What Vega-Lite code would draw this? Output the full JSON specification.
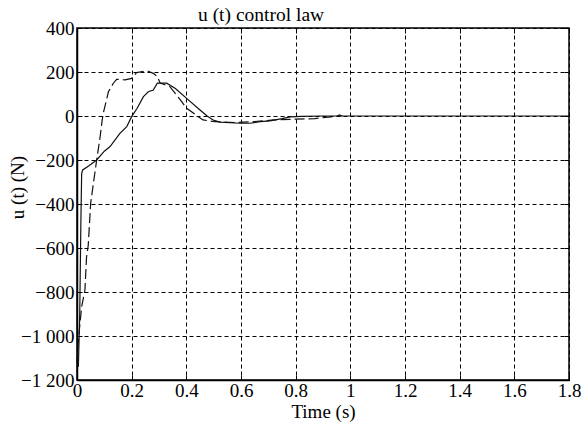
{
  "$schema": "https://vega.github.io/schema/vega-lite/v6.json",
  "width": 492,
  "height": 352,
  "autosize": {"type": "none"},
  "padding": {"left": 77, "top": 28, "right": 12, "bottom": 43},
  "background": "white",
  "config": {
    "font": "Liberation Serif",
    "view": {"stroke": "black", "strokeWidth": 1.5},
    "axis": {
      "labelFont": "Liberation Serif",
      "labelFontSize": 19,
      "labelColor": "black",
      "titleFont": "Liberation Serif",
      "titleFontSize": 19,
      "titleFontWeight": "normal",
      "titleColor": "black",
      "domainColor": "black",
      "domainWidth": 1.5,
      "tickColor": "black",
      "tickWidth": 1,
      "gridColor": "black",
      "gridOpacity": 1,
      "gridWidth": 1,
      "gridDash": [4, 3]
    }
  },
  "title": {
    "text": "u (t) control law",
    "anchor": "start",
    "frame": "group",
    "dx": 121,
    "dy": 29,
    "fontSize": 19.5,
    "fontWeight": "normal",
    "font": "Liberation Serif",
    "color": "black",
    "baseline": "bottom",
    "offset": 4
  },
  "data": {
    "values": [
      {"s": "a", "t": 0.005, "v": -1140},
      {"s": "a", "t": 0.010, "v": -900},
      {"s": "a", "t": 0.014, "v": -500},
      {"s": "a", "t": 0.017, "v": -262},
      {"s": "a", "t": 0.021, "v": -245},
      {"s": "a", "t": 0.045, "v": -225},
      {"s": "a", "t": 0.072, "v": -200},
      {"s": "a", "t": 0.100, "v": -160},
      {"s": "a", "t": 0.121, "v": -139},
      {"s": "a", "t": 0.157, "v": -79},
      {"s": "a", "t": 0.182, "v": -48},
      {"s": "a", "t": 0.200, "v": -3},
      {"s": "a", "t": 0.220, "v": 35},
      {"s": "a", "t": 0.243, "v": 88},
      {"s": "a", "t": 0.261, "v": 110},
      {"s": "a", "t": 0.279, "v": 118},
      {"s": "a", "t": 0.294, "v": 149},
      {"s": "a", "t": 0.328, "v": 149},
      {"s": "a", "t": 0.360, "v": 125},
      {"s": "a", "t": 0.401, "v": 80},
      {"s": "a", "t": 0.450, "v": 27},
      {"s": "a", "t": 0.476, "v": 0},
      {"s": "a", "t": 0.498, "v": -18},
      {"s": "a", "t": 0.523, "v": -28},
      {"s": "a", "t": 0.596, "v": -33},
      {"s": "a", "t": 0.633, "v": -33},
      {"s": "a", "t": 0.670, "v": -26},
      {"s": "a", "t": 0.706, "v": -22},
      {"s": "a", "t": 0.750, "v": -12},
      {"s": "a", "t": 0.780, "v": -4},
      {"s": "a", "t": 0.820, "v": -2},
      {"s": "a", "t": 0.900, "v": 0},
      {"s": "a", "t": 1.000, "v": 0},
      {"s": "a", "t": 1.800, "v": 0},
      {"s": "b", "t": 0.000, "v": -1120},
      {"s": "b", "t": 0.005, "v": -1018},
      {"s": "b", "t": 0.017, "v": -867},
      {"s": "b", "t": 0.029, "v": -791},
      {"s": "b", "t": 0.035, "v": -639},
      {"s": "b", "t": 0.041, "v": -590},
      {"s": "b", "t": 0.050, "v": -397},
      {"s": "b", "t": 0.060, "v": -306},
      {"s": "b", "t": 0.072, "v": -200},
      {"s": "b", "t": 0.084, "v": -100},
      {"s": "b", "t": 0.092, "v": -20},
      {"s": "b", "t": 0.096, "v": 12},
      {"s": "b", "t": 0.115, "v": 110},
      {"s": "b", "t": 0.133, "v": 149},
      {"s": "b", "t": 0.145, "v": 167},
      {"s": "b", "t": 0.176, "v": 164},
      {"s": "b", "t": 0.200, "v": 171},
      {"s": "b", "t": 0.218, "v": 197},
      {"s": "b", "t": 0.255, "v": 206},
      {"s": "b", "t": 0.279, "v": 194},
      {"s": "b", "t": 0.294, "v": 179},
      {"s": "b", "t": 0.304, "v": 150},
      {"s": "b", "t": 0.340, "v": 133},
      {"s": "b", "t": 0.383, "v": 65},
      {"s": "b", "t": 0.401, "v": 35},
      {"s": "b", "t": 0.461, "v": -18},
      {"s": "b", "t": 0.505, "v": -26},
      {"s": "b", "t": 0.584, "v": -30},
      {"s": "b", "t": 0.650, "v": -25},
      {"s": "b", "t": 0.720, "v": -18},
      {"s": "b", "t": 0.800, "v": -14},
      {"s": "b", "t": 0.870, "v": -12},
      {"s": "b", "t": 0.920, "v": -5},
      {"s": "b", "t": 0.950, "v": -2},
      {"s": "b", "t": 0.960, "v": 5},
      {"s": "b", "t": 0.970, "v": 0}
    ]
  },
  "layer": [
    {
      "transform": [{"filter": "datum.s == 'a'"}],
      "mark": {"type": "line", "stroke": "#111", "strokeWidth": 1.2},
      "encoding": {
        "x": {
          "field": "t",
          "type": "quantitative",
          "scale": {"domain": [0, 1.8], "nice": false, "zero": false},
          "axis": {
            "orient": "bottom",
            "title": "Time (s)",
            "values": [0, 0.2, 0.4, 0.6, 0.8, 1, 1.2, 1.4, 1.6, 1.8],
            "labelExpr": "format(datum.value, '~g')",
            "grid": true,
            "tickSize": -5,
            "labelPadding": 6,
            "labelFlush": false,
            "labelOverlap": false,
            "titleY": 37,
            "titleBaseline": "alphabetic"
          }
        },
        "y": {
          "field": "v",
          "type": "quantitative",
          "scale": {"domain": [-1200, 400], "nice": false, "zero": false},
          "axis": {
            "orient": "left",
            "title": "u (t) (N)",
            "values": [-1200, -1000, -800, -600, -400, -200, 0, 200, 400],
            "labelExpr": "datum.value == -1000 ? '\u22121 000' : datum.value == -1200 ? '\u22121 200' : replace(format(datum.value, 'd'), '-', '\u2212')",
            "grid": true,
            "tickSize": -5,
            "labelPadding": 8,
            "labelFlush": false,
            "labelOverlap": false,
            "titleX": -60,
            "titleY": 159,
            "titleBaseline": "middle"
          }
        }
      }
    },
    {
      "transform": [{"filter": "datum.s == 'b'"}],
      "mark": {"type": "line", "stroke": "#111", "strokeWidth": 1.2, "strokeDash": [10, 4]},
      "encoding": {
        "x": {
          "field": "t",
          "type": "quantitative",
          "axis": {
            "orient": "top",
            "title": null,
            "labels": false,
            "grid": false,
            "domain": false,
            "values": [0, 0.2, 0.4, 0.6, 0.8, 1, 1.2, 1.4, 1.6, 1.8],
            "tickSize": -5,
            "minExtent": 0,
            "maxExtent": 0,
            "offset": 0
          }
        },
        "y": {
          "field": "v",
          "type": "quantitative",
          "axis": {
            "orient": "right",
            "title": null,
            "labels": false,
            "grid": false,
            "domain": false,
            "values": [-1200, -1000, -800, -600, -400, -200, 0, 200, 400],
            "tickSize": -5,
            "minExtent": 0,
            "maxExtent": 0
          }
        }
      }
    }
  ],
  "resolve": {"axis": {"x": "independent", "y": "independent"}}
}
